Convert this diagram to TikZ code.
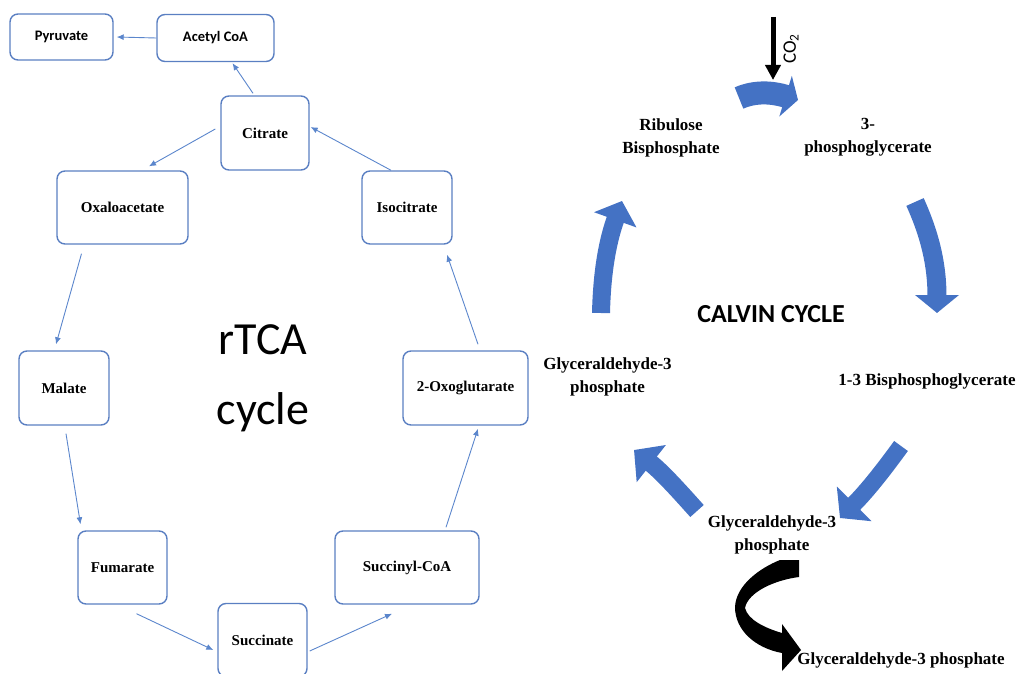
\documentclass[tikz,border=0pt]{standalone}
\usepackage{fontspec}
\setmainfont{Liberation Serif}
\newfontfamily\calfont{Carlito}
\usetikzlibrary{arrows.meta}
\definecolor{boxblue}{HTML}{5A7FC2}
\definecolor{lineblue}{HTML}{5B86CC}
\definecolor{bigblue}{HTML}{4472C4}
\tikzset{
  box/.style={draw=boxblue, line width=1.4pt, rounded corners=8pt, align=center,
    font=\bfseries\fontsize{15}{17}\selectfont, inner sep=2pt},
  sbox/.style={box, font=\calfont\bfseries\fontsize{14.5}{17}\selectfont},
  conn/.style={draw=lineblue, line width=0.9pt, -{Latex[length=7pt,width=6pt]}},
  lbl/.style={align=center, font=\bfseries\fontsize{17}{23}\selectfont, inner sep=0pt},
  bigarrow/.style={draw=bigblue, line cap=butt}
}
\begin{document}
\begin{tikzpicture}[x=1pt,y=-1pt]
\useasboundingbox (0,0) rectangle (1022,674);
% rTCA boxes
\node[sbox, minimum width=103pt, minimum height=46pt] (pyr) at (61.5,37) {Pyruvate};
\node[sbox, minimum width=117pt, minimum height=47pt] (acetyl) at (215.5,38) {Acetyl CoA};
\node[box, minimum width=88pt, minimum height=74pt] (cit) at (265,133) {Citrate};
\node[box, minimum width=131pt, minimum height=73pt] (oxa) at (122.5,207.5) {Oxaloacetate};
\node[box, minimum width=90pt, minimum height=73pt] (iso) at (407,207.5) {Isocitrate};
\node[box, minimum width=90pt, minimum height=74pt] (mal) at (64,388) {Malate};
\node[box, minimum width=125pt, minimum height=74pt] (oxo) at (465.5,388) {2-Oxoglutarate};
\node[box, minimum width=89pt, minimum height=73pt] (fum) at (122.5,567.5) {Fumarate};
\node[box, minimum width=144pt, minimum height=73pt] (scoa) at (407,567.5) {Succinyl-CoA};
\node[box, minimum width=89pt, minimum height=73pt] (suc) at (262.5,640) {Succinate};
\node[align=center, inner sep=0pt, font=\calfont\fontsize{46}{70}\selectfont] (rtca) at (263,378.5) {rTCA\\cycle};
% rTCA connectors
\draw[conn] (acetyl.west) -- ([xshift=3pt]pyr.east);
\draw[conn] ([xshift=-12pt,yshift=2pt]cit.north) -- ([xshift=17pt,yshift=-1pt]acetyl.south);
\draw[conn] ([xshift=-5pt,yshift=4pt]cit.west) -- ([xshift=26.5pt,yshift=4pt]oxa.north);
\draw[conn] ([xshift=-16pt]iso.north) -- ([xshift=1pt,yshift=6pt]cit.east);
\draw[conn] ([xshift=-41pt,yshift=-9pt]oxa.south) -- ([xshift=-8pt,yshift=6pt]mal.north);
\draw[conn] ([xshift=2pt,yshift=-8pt]mal.south) -- ([xshift=-42pt,yshift=6pt]fum.north);
\draw[conn] ([xshift=14pt,yshift=-9pt]fum.south) -- ([xshift=-4pt,yshift=-10pt]suc.west);
\draw[conn] ([xshift=2pt,yshift=-11pt]suc.east) -- ([xshift=-15pt,yshift=-9pt]scoa.south);
\draw[conn] ([xshift=39pt,yshift=3pt]scoa.north) -- ([xshift=12.5pt,yshift=-3pt]oxo.south);
\draw[conn] ([xshift=12.5pt,yshift=6pt]oxo.north) -- ([xshift=40pt,yshift=-10pt]iso.south);
% Calvin cycle labels
\node[lbl] (rubp) at (671,137.5) {Ribulose\\Bisphosphate};
\node[lbl] (pga) at (868,137.5) {3-\\phosphoglycerate};
\node[lbl] (bpg) at (927,381) {1-3 Bisphosphoglycerate};
\node[lbl] (g3pl) at (607.5,377) {Glyceraldehyde-3\\phosphate};
\node[lbl] (g3pb) at (772,535) {Glyceraldehyde-3\\phosphate};
\node[lbl] (g3pout) at (901,660) {Glyceraldehyde-3 phosphate};
\node[inner sep=0pt, font=\calfont\bfseries\fontsize{26}{30}\selectfont] (calvin) at (771,314) {CALVIN CYCLE};
% CO2 input
\coordinate (co2top) at (773,17);
\coordinate (co2tip) at (773,80);
\draw[line width=5pt, -{Triangle[length=15pt,width=15pt]}] (co2top) -- (co2tip);
\node[rotate=90, inner sep=0pt, font=\calfont\fontsize{19}{19}\selectfont] (co2) at (791,49) {CO\textsubscript{2}};
% big blue cycle arrows
\draw[bigarrow, line width=23pt, -{Triangle[length=13pt,width=42pt]}] (739,98) .. controls (755,91) and (772,92) .. (798,100);
\draw[bigarrow, line width=19pt, -{Triangle[length=18pt,width=43pt]}] (915,202) .. controls (930,235) and (937,265) .. (937,313);
\draw[bigarrow, line width=17pt, -{Triangle[length=20pt,width=48pt]}] (901,446) .. controls (885,468) and (868,490) .. (840,518);
\draw[bigarrow, line width=18pt, -{Triangle[length=22pt,width=46pt]}] (697,511) .. controls (680,492) and (662,472) .. (634,450);
\draw[bigarrow, line width=18pt, -{Triangle[length=20pt,width=44pt]}] (601,313) .. controls (602,270) and (608,240) .. (622,201);
% black output arrow
\fill[black] (780,560) -- (799,560) -- (799,577)
  .. controls (775,580) and (748,592) .. (745,608)
  .. controls (748,620) and (765,628) .. (782,633)
  -- (782,624) -- (801,650) -- (782,671) -- (782,653)
  .. controls (755,648) and (735,630) .. (735,607)
  .. controls (736,585) and (760,568) .. (780,560) -- cycle;
\end{tikzpicture}
\end{document}
